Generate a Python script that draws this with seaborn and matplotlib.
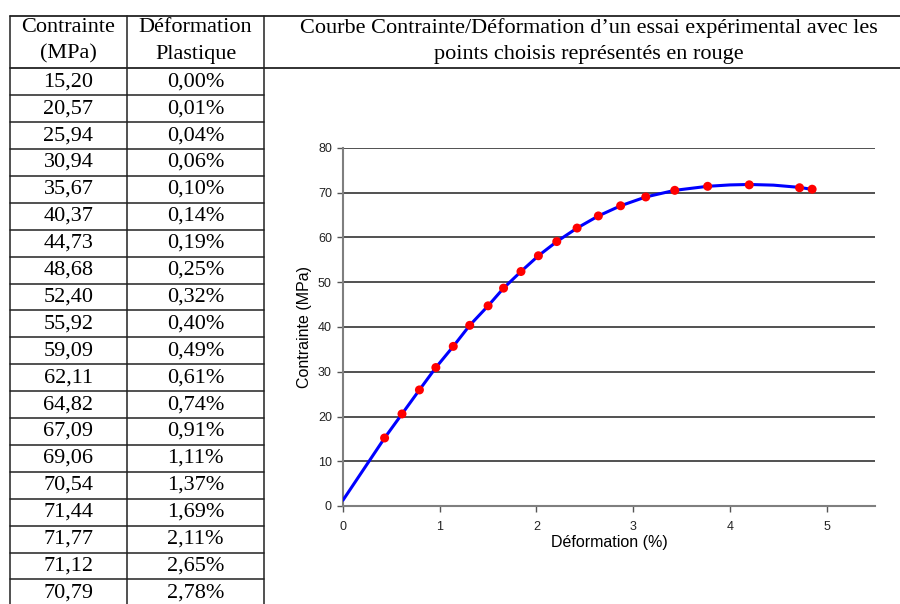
import numpy as np
import pandas as pd
import matplotlib
matplotlib.use("Agg")
import matplotlib.pyplot as plt
import seaborn as sns

# table values (as printed)
contrainte_txt = ["15,20", "20,57", "25,94", "30,94", "35,67", "40,37", "44,73", "48,68", "52,40", "55,92",
                  "59,09", "62,11", "64,82", "67,09", "69,06", "70,54", "71,44", "71,77", "71,12", "70,79"]
deform_txt = ["0,00%", "0,01%", "0,04%", "0,06%", "0,10%", "0,14%", "0,19%", "0,25%", "0,32%", "0,40%",
              "0,49%", "0,61%", "0,74%", "0,91%", "1,11%", "1,37%", "1,69%", "2,11%", "2,65%", "2,78%"]

# red points (total strain, stress from the table)
pts_x = [0.43, 0.61, 0.79, 0.96, 1.14, 1.31, 1.50, 1.66, 1.84, 2.02,
         2.21, 2.42, 2.64, 2.87, 3.13, 3.43, 3.77, 4.20, 4.72, 4.85]
pts_y = [15.20, 20.57, 25.94, 30.94, 35.67, 40.37, 44.73, 48.68, 52.40, 55.92,
         59.09, 62.11, 64.82, 67.09, 69.06, 70.54, 71.44, 71.77, 71.12, 70.79]

# blue experimental curve
curve_x = [0.0, 0.43, 0.61, 0.79, 0.96, 1.14, 1.31, 1.50, 1.66, 1.84, 2.02, 2.21, 2.42, 2.64,
           2.87, 3.13, 3.43, 3.77, 4.00, 4.20, 4.45, 4.72, 4.85]
curve_y = [1.3, 15.20, 20.57, 25.94, 30.94, 35.67, 40.37, 44.73, 48.68, 52.40, 55.92, 59.09, 62.11, 64.82,
           67.09, 69.06, 70.54, 71.44, 71.75, 71.85, 71.7, 71.2, 70.75]

header_col1 = ["Contrainte", "(MPa)"]
header_col2 = ["Déformation", "Plastique"]
title_lines = ["Courbe Contrainte/Déformation d\u2019un essai expérimental avec les",
               "points choisis représentés en rouge"]

sns.set_theme(style="white")
plt.rcParams["font.family"] = ["Liberation Sans", "DejaVu Sans"]

W, H = 900, 604
fig = plt.figure(figsize=(9, 6.04), dpi=100)

# background axes in pixel coordinates for the table
bg = fig.add_axes([0, 0, 1, 1])
bg.set_xlim(0, W)
bg.set_ylim(H, 0)
bg.axis("off")

serif = ["Liberation Serif", "DejaVu Serif"]
lc = "#222222"
fs = 16
top, head_bot, row_h = 15.5, 68.3, 26.9
x_left, x_mid, x_right = 10, 127, 264

bg.plot([x_left, W], [top, top], color=lc, lw=1.3)
bg.plot([x_left, W], [head_bot, head_bot], color=lc, lw=1.3)
for xv in [x_left, x_mid, x_right]:
    bg.plot([xv, xv], [top, H], color=lc, lw=1.1)
for i in range(1, len(contrainte_txt) + 1):
    yv = head_bot + i * row_h
    bg.plot([x_left, x_right], [yv, yv], color=lc, lw=1.1)

c1, c2 = (x_left + x_mid) / 2, (x_mid + x_right) / 2
for j, (a, b) in enumerate(zip(header_col1, header_col2)):
    yy = 28 + j * 26
    bg.text(c1, yy, a, ha="center", va="center", family=serif, fontsize=fs, color="black")
    bg.text(c2, yy, b, ha="center", va="center", family=serif, fontsize=fs, color="black")
for j, t in enumerate(title_lines):
    bg.text(589, 28 + j * 26, t, ha="center", va="center", family=serif, fontsize=fs, color="black")

for i, (a, b) in enumerate(zip(contrainte_txt, deform_txt)):
    yy = head_bot + (i + 0.5) * row_h
    bg.text(c1, yy, a, ha="center", va="center", family=serif, fontsize=fs, color="black")
    bg.text(c2, yy, b, ha="center", va="center", family=serif, fontsize=fs, color="black")

# chart
ax = fig.add_axes([343 / W, 1 - 506 / H, (875 - 343) / W, (506 - 148) / H])
df_curve = pd.DataFrame({"x": curve_x, "y": curve_y})
df_pts = pd.DataFrame({"x": pts_x, "y": pts_y})
sns.lineplot(data=df_curve, x="x", y="y", sort=False, color="#0000ff", lw=2.2, ax=ax, zorder=3)
sns.scatterplot(data=df_pts, x="x", y="y", color="#ff0000", s=42, edgecolor="none", ax=ax, zorder=4)

ax.set_xlim(0, 5.5)
ax.set_ylim(0, 80)
ax.set_xticks(range(0, 6))
ax.set_yticks(range(0, 81, 10))
for yv in range(10, 81, 10):
    ax.axhline(yv, color="#333333", lw=1.2, zorder=1)
for s in ["top", "right"]:
    ax.spines[s].set_visible(False)
for s in ["left", "bottom"]:
    ax.spines[s].set_color("#7f7f7f")
    ax.spines[s].set_linewidth(1.5)
ax.tick_params(axis="both", which="major", length=4, width=1, color="#555555",
               labelsize=9, labelcolor="#222222", direction="out", bottom=True, left=True)
ax.tick_params(axis="x", pad=7)
ax.tick_params(axis="y", pad=4)
ax.set_xlabel("Déformation (%)", fontsize=11.5, color="black", labelpad=1)
ax.set_ylabel("Contrainte (MPa)", fontsize=11.5, color="black", labelpad=4)

fig.savefig("out.png", dpi=100)
